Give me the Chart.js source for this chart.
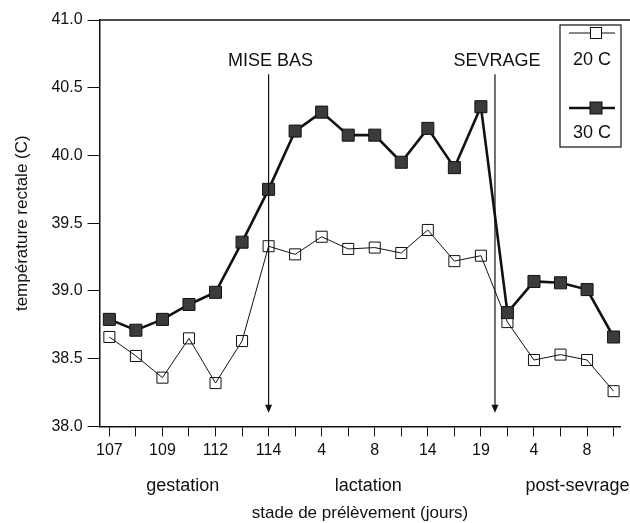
<!DOCTYPE html>
<html>
<head>
<meta charset="utf-8">
<script src="https://cdn.jsdelivr.net/npm/chart.js@4/dist/chart.umd.min.js"></script>
<style>
  html, body { margin:0; padding:0; background:#fff; }
  #wrap { width:630px; height:523px; }
</style>
</head>
<body>
<div id="wrap"><canvas id="chart" width="630" height="523"></canvas></div>
<script>
/* Rectal temperature by sampling stage, 20 C vs 30 C */

const X_LABELS = ['107','','109','','112','','114','','4','','8','','14','','19','','4','','8',''];
const TEMP_20 = [38.66,38.52,38.36,38.65,38.32,38.63,39.33,39.27,39.40,39.31,39.32,39.28,39.45,39.22,39.26,38.77,38.49,38.53,38.49,38.26];
const TEMP_30 = [38.79,38.71,38.79,38.90,38.99,39.36,39.75,40.18,40.32,40.15,40.15,39.95,40.20,39.91,40.36,38.84,39.07,39.06,39.01,38.66];
const Y_TICKS = [38.0,38.5,39.0,39.5,40.0,40.5,41.0];

const PHASES = ['gestation','lactation','post-sevrage'];
const PHASE_AT = [2.73, 9.72, 17.6];

const EVENTS = ['MISE BAS','SEVRAGE'];
const EVENT_AT = [6, 14.53];

const FONT = "'Liberation Sans', Arial, Helvetica, sans-serif";
const INK = '#111';

const toPoints = arr => arr.map((v,i) => ({x:i, y:v}));

const decorPlugin = {
  id:'decor',
  afterDatasetsDraw(chart){
    const {ctx, chartArea:a, scales:{x, y}} = chart;
    ctx.save();
    ctx.strokeStyle = INK; ctx.fillStyle = INK;

    // top frame line
    ctx.lineWidth = 1.5;
    ctx.beginPath(); ctx.moveTo(a.left, a.top); ctx.lineTo(630, a.top); ctx.stroke();

    // event arrows
    ctx.font = '18px ' + FONT;
    ctx.textAlign = 'center'; ctx.textBaseline = 'middle';
    EVENTS.forEach((name, i) => {
      const px = x.getPixelForValue(EVENT_AT[i]);
      const yTop = y.getPixelForValue(40.6), yTip = y.getPixelForValue(38.1);
      ctx.lineWidth = 1.2;
      ctx.beginPath(); ctx.moveTo(px, yTop); ctx.lineTo(px, yTip - 6); ctx.stroke();
      ctx.beginPath();
      ctx.moveTo(px - 3.5, yTip - 8); ctx.lineTo(px + 3.5, yTip - 8); ctx.lineTo(px, yTip);
      ctx.closePath(); ctx.fill();
      ctx.fillText(name, px + 2, y.getPixelForValue(40.7));
    });

    // phase labels under the axis
    PHASES.forEach((name, i) => {
      ctx.fillText(name, x.getPixelForValue(PHASE_AT[i]) + 1, a.bottom + 60);
    });

    // legend box
    const bx = 560, by = 25, bw = 61, bh = 122;
    ctx.fillStyle = '#fff'; ctx.fillRect(bx, by, bw, bh);
    ctx.lineWidth = 1.2; ctx.strokeStyle = INK; ctx.strokeRect(bx, by, bw, bh);
    ctx.fillStyle = INK;
    // 20 C
    ctx.lineWidth = 1;
    ctx.beginPath(); ctx.moveTo(569, 33); ctx.lineTo(615, 33); ctx.stroke();
    ctx.fillStyle = '#fff'; ctx.fillRect(590.5, 27.5, 11, 11);
    ctx.strokeRect(590.5, 27.5, 11, 11);
    ctx.fillStyle = INK;
    ctx.fillText('20 C', 592, 60);
    // 30 C
    ctx.lineWidth = 2.5;
    ctx.beginPath(); ctx.moveTo(569, 108); ctx.lineTo(615, 108); ctx.stroke();
    ctx.fillStyle = '#3b3b3b'; ctx.fillRect(590, 102, 12, 12);
    ctx.lineWidth = 1; ctx.strokeRect(590, 102, 12, 12);
    ctx.fillStyle = INK;
    ctx.fillText('30 C', 592, 133);
    ctx.restore();
  }
};

new Chart(document.getElementById('chart'), {
  type:'line',
  data:{
    datasets:[
      {label:'20 C', data:toPoints(TEMP_20), borderColor:INK, borderWidth:1,
       pointStyle:'rect', pointRadius:7.8, pointHoverRadius:7.8,
       pointBackgroundColor:'rgba(255,255,255,0)', pointBorderColor:INK, pointBorderWidth:1,
       tension:0, order:1},
      {label:'30 C', data:toPoints(TEMP_30), borderColor:INK, borderWidth:2.6,
       pointStyle:'rect', pointRadius:8.5, pointHoverRadius:8.5,
       pointBackgroundColor:'#3b3b3b', pointBorderColor:INK, pointBorderWidth:1,
       tension:0, order:0}
    ]
  },
  options:{
    responsive:false, animation:false,
    layout:{padding:{left:12, right:8, top:20, bottom:0}},
    plugins:{legend:{display:false}, tooltip:{enabled:false}},
    scales:{
      x:{
        type:'linear', min:-0.37, max:19.26,
        afterBuildTicks: s => { s.ticks = X_LABELS.map((_, i) => ({value:i})); },
        ticks:{autoSkip:false, maxRotation:0, padding:5, color:INK, font:{family:FONT, size:16},
               callback:(v) => X_LABELS[v] ?? ''},
        grid:{drawOnChartArea:false, drawTicks:true, tickLength:10, color:INK, lineWidth:1},
        border:{display:true, color:INK, width:1.5},
        title:{display:true, text:'stade de prélèvement (jours)', color:INK,
               font:{family:FONT, size:17}, padding:{top:38, bottom:-1}}
      },
      y:{
        min:38, max:41,
        afterBuildTicks: s => { s.ticks = Y_TICKS.map(v => ({value:v})); },
        ticks:{padding:5, color:INK, font:{family:FONT, size:16}, callback:v => v.toFixed(1)},
        grid:{drawOnChartArea:false, drawTicks:true, tickLength:12, color:INK, lineWidth:1},
        border:{display:true, color:INK, width:1.5},
        title:{display:true, text:'température rectale (C)', color:INK,
               font:{family:FONT, size:17}, padding:{top:0, bottom:14}}
      }
    }
  },
  plugins:[decorPlugin]
});
</script>
</body>
</html>
